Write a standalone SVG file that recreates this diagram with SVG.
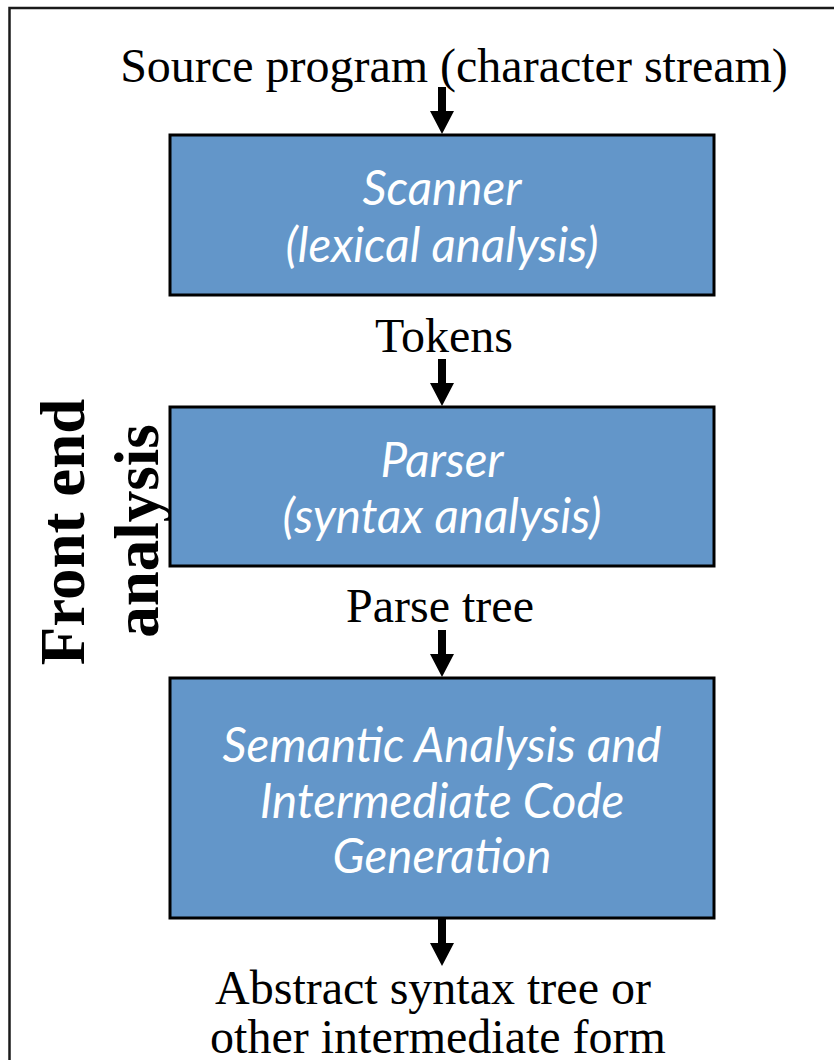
<svg xmlns="http://www.w3.org/2000/svg" width="834" height="1060" viewBox="0 0 834 1060">
  <style>
    .frame { fill: none; stroke: #1a1a1a; stroke-width: 2.5; }
    .box { fill: #6396c9; stroke: #000; stroke-width: 3; }
    .box-text { font-family: Lato, "Open Sans", sans-serif; font-style: italic; font-size: 47.5px; fill: #ffffff; text-anchor: middle; }
    .label { font-family: "Liberation Serif", "Times New Roman", serif; font-size: 48px; fill: #000; text-anchor: middle; }
    .side { font-family: "Liberation Serif", "Times New Roman", serif; font-weight: bold; font-size: 63px; fill: #000; text-anchor: middle; }
    .arrow { fill: #000; }
  </style>
  <defs>
    <!-- downward block arrow, tip at origin -->
    <path id="down-arrow" d="M -4 -47 H 4 V -23 H 12 L 0 0 L -12 -23 H -4 Z"/>
  </defs>

  <rect width="834" height="1060" fill="#fff"/>
  <rect class="frame" x="9.5" y="8" width="900" height="1100"/>

  <!-- side caption -->
  <g id="front-end-caption">
    <text class="side" transform="translate(84 532) rotate(-90)">Front end</text>
    <text class="side" transform="translate(158 531) rotate(-90)">analysis</text>
  </g>

  <!-- data labels between the stages -->
  <g id="source-label"><text class="label" x="454" y="82">Source program (character stream)</text></g>
  <g id="tokens-label"><text class="label" x="444" y="352">Tokens</text></g>
  <g id="parse-tree-label"><text class="label" x="440" y="622">Parse tree</text></g>
  <g id="output-label">
    <text class="label" x="433" y="1004">Abstract syntax tree or</text>
    <text class="label" x="438" y="1053">other intermediate form</text>
  </g>

  <!-- stages -->
  <g id="scanner">
    <rect class="box" x="170" y="135" width="544" height="160"/>
    <text class="box-text" x="442" y="205">Scanner</text>
    <text class="box-text" x="442" y="262">(lexical analysis)</text>
  </g>
  <g id="parser">
    <rect class="box" x="170" y="407" width="544" height="159"/>
    <text class="box-text" x="442" y="477">Parser</text>
    <text class="box-text" x="442" y="533">(syntax analysis)</text>
  </g>
  <g id="semantic">
    <rect class="box" x="170" y="678" width="544" height="240"/>
    <text class="box-text" x="442" y="762">Semantic Analysis and</text>
    <text class="box-text" x="442" y="818">Intermediate Code</text>
    <text class="box-text" x="442" y="873">Generation</text>
  </g>

  <!-- connectors -->
  <g id="connectors" class="arrow">
    <use href="#down-arrow" x="442" y="134"/>
    <use href="#down-arrow" x="442" y="406"/>
    <use href="#down-arrow" x="442" y="677"/>
    <use href="#down-arrow" x="442" y="966"/>
  </g>
</svg>
